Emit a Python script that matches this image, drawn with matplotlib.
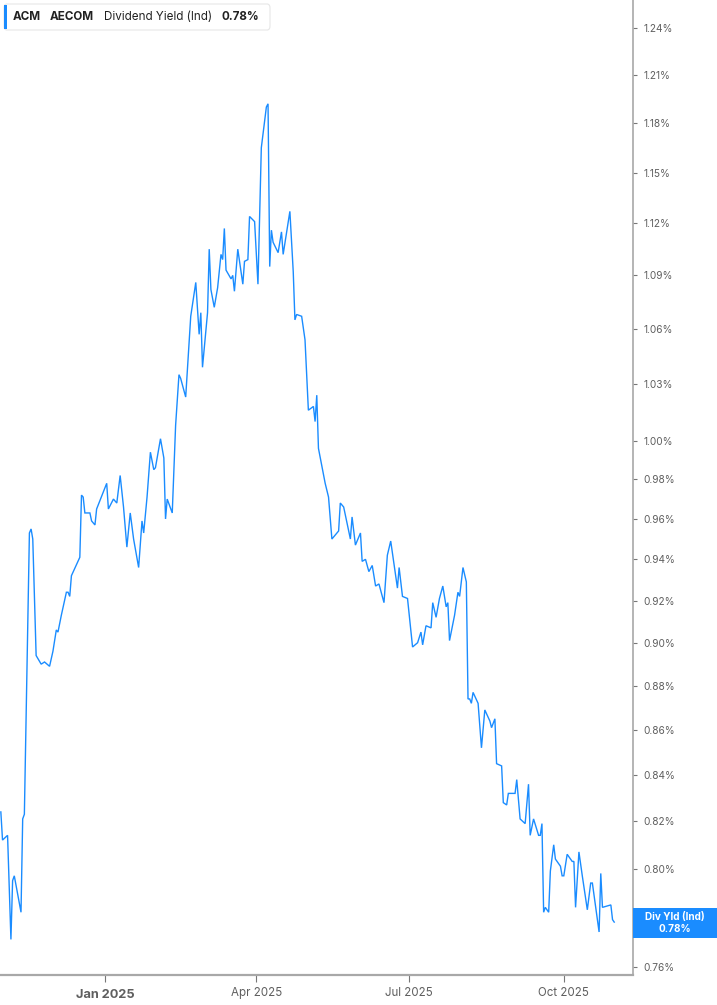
import numpy as np
import pandas as pd
import matplotlib
matplotlib.use("Agg")
import matplotlib.pyplot as plt
from matplotlib.patches import FancyBboxPatch, Rectangle
from matplotlib.ticker import FixedLocator, FuncFormatter, NullLocator

plt.rcParams['font.family'] = ['Inter', 'DejaVu Sans']

# -----------------------------
# Data
# -----------------------------
dates = [
    "2024-10-31", "2024-11-01", "2024-11-04", "2024-11-06", "2024-11-07", "2024-11-08",
    "2024-11-12", "2024-11-13", "2024-11-14", "2024-11-17", "2024-11-18", "2024-11-19",
    "2024-11-21", "2024-11-24", "2024-11-26", "2024-11-29", "2024-12-01", "2024-12-03",
    "2024-12-04", "2024-12-06", "2024-12-09", "2024-12-10", "2024-12-11", "2024-12-12",
    "2024-12-17", "2024-12-18", "2024-12-19", "2024-12-20", "2024-12-23", "2024-12-24",
    "2024-12-26", "2024-12-27", "2025-01-02", "2025-01-03", "2025-01-06", "2025-01-08",
    "2025-01-10", "2025-01-12", "2025-01-14", "2025-01-16", "2025-01-18", "2025-01-21",
    "2025-01-23", "2025-01-24", "2025-01-26", "2025-01-28", "2025-01-30", "2025-01-31",
    "2025-02-03", "2025-02-05", "2025-02-06", "2025-02-07", "2025-02-10", "2025-02-12",
    "2025-02-14", "2025-02-15", "2025-02-18", "2025-02-21", "2025-02-24", "2025-02-26",
    "2025-02-27", "2025-02-28", "2025-03-03", "2025-03-04", "2025-03-05", "2025-03-07",
    "2025-03-09", "2025-03-11", "2025-03-12", "2025-03-13", "2025-03-14", "2025-03-17",
    "2025-03-18", "2025-03-19", "2025-03-21", "2025-03-24", "2025-03-25", "2025-03-27",
    "2025-03-28", "2025-03-31", "2025-04-02", "2025-04-04", "2025-04-07", "2025-04-08",
    "2025-04-09", "2025-04-10", "2025-04-11", "2025-04-14", "2025-04-16", "2025-04-17",
    "2025-04-21", "2025-04-23", "2025-04-24", "2025-04-25", "2025-04-28", "2025-04-30",
    "2025-05-02", "2025-05-05", "2025-05-06", "2025-05-07", "2025-05-08", "2025-05-12",
    "2025-05-14", "2025-05-16", "2025-05-20", "2025-05-21", "2025-05-23", "2025-05-27",
    "2025-05-28", "2025-05-30", "2025-06-02", "2025-06-03", "2025-06-05", "2025-06-07",
    "2025-06-09", "2025-06-11", "2025-06-13", "2025-06-16", "2025-06-18", "2025-06-20",
    "2025-06-24", "2025-06-25", "2025-06-27", "2025-06-30", "2025-07-03", "2025-07-06",
    "2025-07-08", "2025-07-09", "2025-07-11", "2025-07-14", "2025-07-15", "2025-07-17",
    "2025-07-19", "2025-07-21", "2025-07-23", "2025-07-24", "2025-07-25", "2025-07-28",
    "2025-07-30", "2025-07-31", "2025-08-02", "2025-08-04", "2025-08-05", "2025-08-06",
    "2025-08-07", "2025-08-08", "2025-08-11", "2025-08-13", "2025-08-15", "2025-08-18",
    "2025-08-19", "2025-08-21", "2025-08-22", "2025-08-25", "2025-08-26", "2025-08-28",
    "2025-08-29", "2025-09-02", "2025-09-03", "2025-09-05", "2025-09-08", "2025-09-10",
    "2025-09-11", "2025-09-13", "2025-09-16", "2025-09-17", "2025-09-18", "2025-09-19",
    "2025-09-20", "2025-09-22", "2025-09-23", "2025-09-25", "2025-09-26", "2025-09-29",
    "2025-09-30", "2025-10-01", "2025-10-03", "2025-10-06", "2025-10-07", "2025-10-08",
    "2025-10-10", "2025-10-12", "2025-10-15", "2025-10-17", "2025-10-18", "2025-10-20",
    "2025-10-22", "2025-10-23", "2025-10-24", "2025-10-29", "2025-10-30", "2025-10-31",
]

div_yield = [
    0.824, 0.812, 0.814, 0.771, 0.795, 0.797,
    0.782, 0.821, 0.823, 0.953, 0.955, 0.950,
    0.894, 0.890, 0.891, 0.889, 0.896, 0.906,
    0.905, 0.913, 0.924, 0.924, 0.922, 0.932,
    0.941, 0.972, 0.971, 0.963, 0.963, 0.959,
    0.957, 0.965, 0.978, 0.965, 0.970, 0.968,
    0.982, 0.966, 0.946, 0.963, 0.950, 0.936,
    0.959, 0.953, 0.971, 0.994, 0.985, 0.986,
    1.001, 0.991, 0.960, 0.970, 0.963, 1.008,
    1.035, 1.033, 1.023, 1.067, 1.086, 1.057,
    1.069, 1.039, 1.069, 1.105, 1.082, 1.072,
    1.083, 1.102, 1.099, 1.117, 1.093, 1.088,
    1.090, 1.081, 1.105, 1.085, 1.098, 1.099,
    1.124, 1.121, 1.085, 1.165, 1.190, 1.192,
    1.095, 1.116, 1.109, 1.103, 1.115, 1.102,
    1.127, 1.092, 1.065, 1.068, 1.067, 1.054,
    1.016, 1.018, 1.010, 1.024, 0.996, 0.978,
    0.971, 0.950, 0.954, 0.968, 0.966, 0.950,
    0.961, 0.947, 0.953, 0.939, 0.940, 0.934,
    0.937, 0.927, 0.928, 0.919, 0.942, 0.949,
    0.926, 0.936, 0.922, 0.921, 0.898, 0.900,
    0.905, 0.899, 0.908, 0.907, 0.919, 0.912,
    0.921, 0.927, 0.917, 0.919, 0.901, 0.913,
    0.924, 0.922, 0.936, 0.929, 0.874, 0.874,
    0.872, 0.877, 0.872, 0.852, 0.869, 0.864,
    0.861, 0.865, 0.845, 0.844, 0.828, 0.827,
    0.832, 0.832, 0.838, 0.821, 0.819, 0.836,
    0.814, 0.821, 0.814, 0.814, 0.819, 0.782,
    0.784, 0.782, 0.799, 0.810, 0.804, 0.801,
    0.797, 0.797, 0.806, 0.803, 0.803, 0.784,
    0.807, 0.797, 0.783, 0.794, 0.794, 0.784,
    0.774, 0.798, 0.784, 0.785, 0.779, 0.778,
]

y_ticks = [0.76, 0.78, 0.80, 0.82, 0.84, 0.86, 0.88, 0.90, 0.92, 0.94, 0.96, 0.98,
           1.00, 1.03, 1.06, 1.09, 1.12, 1.15, 1.18, 1.21, 1.24]
x_ticks = ["2025-01-01", "2025-04-01", "2025-07-01", "2025-10-01"]
x_labels = ["Jan 2025", "Apr 2025", "Jul 2025", "Oct 2025"]

ticker_sym = "ACM"
company = "AECOM"
metric = "Dividend Yield (Ind)"
last_label = "Div Yld (Ind)"

blue = "#1a8cff"
grey_txt = "#5f5f5f"
spine_col = "#a8a8a8"

x = pd.to_datetime(dates)
y = np.array(div_yield)
last_val = y[-1]

# -----------------------------
# Figure
# -----------------------------
W, H = 717, 1005
fig = plt.figure(figsize=(W / 100, H / 100), dpi=100)
ax = fig.add_axes([0, 30.3 / H, 632.7 / W, 974.7 / H])

ax.plot(x, y, color=blue, lw=1.0, solid_joinstyle='miter')

ax.set_yscale('log')
ax.set_ylim(0.75695, 1.2583)
ax.set_xlim(pd.Timestamp("2024-10-30 12:00"), pd.Timestamp("2025-11-11"))


def pct_fmt(v, p):
    # the tick hidden behind the last-value tag gets no label
    if abs(v - round(last_val, 2)) < 1e-9:
        return ""
    return f"{v:.2f}%"


ax.yaxis.tick_right()
ax.yaxis.set_major_locator(FixedLocator(y_ticks))
ax.yaxis.set_minor_locator(NullLocator())
ax.yaxis.set_major_formatter(FuncFormatter(pct_fmt))
ax.tick_params(axis='y', which='major', length=3, width=0.8, color='#777777',
               labelsize=7.3, labelcolor=grey_txt, pad=5)

ax.set_xticks(pd.to_datetime(x_ticks))
ax.set_xticklabels(x_labels)
ax.tick_params(axis='x', length=5, width=0.8, color='#777777', labelsize=8.3,
               labelcolor=grey_txt, pad=4)
ax.xaxis.set_minor_locator(NullLocator())
for i, lab in enumerate(ax.get_xticklabels()):
    if i == 0:
        lab.set_fontweight('bold')
        lab.set_fontsize(9.2)
        lab.set_y(-0.002)

for s in ['top', 'left']:
    ax.spines[s].set_visible(False)
ax.spines['right'].set_color(spine_col)
ax.spines['bottom'].set_color(spine_col)
ax.spines['right'].set_linewidth(1.2)
ax.spines['bottom'].set_linewidth(1.6)

# -----------------------------
# Legend box (top-left)
# -----------------------------
def fx(px):
    return px / W

def fy(py):
    return 1 - py / H

box = FancyBboxPatch((fx(4), fy(30)), fx(266), 26 / H,
                     boxstyle="round,pad=0,rounding_size=0.004",
                     transform=fig.transFigure, facecolor='white',
                     edgecolor='#e6e6e6', lw=0.8, zorder=5)
fig.patches.append(box)
fig.patches.append(Rectangle((fx(4), fy(29)), fx(3), 24 / H, transform=fig.transFigure,
                             facecolor=blue, edgecolor='none', zorder=6))
ty = fy(17)
txt_kw = dict(fontsize=8.4, color='#222222', va='center', zorder=8)
fig.text(fx(13), ty, ticker_sym, fontweight='bold', **txt_kw)
fig.text(fx(50), ty, company, fontweight='bold', **txt_kw)
fig.text(fx(104), ty, metric, **txt_kw)
fig.text(fx(221), ty, f"{last_val:.2f}%", fontweight='bold', **txt_kw)

# -----------------------------
# Last value tag on the axis
# -----------------------------
fig.patches.append(Rectangle((fx(633), fy(938)), fx(84), 30 / H, transform=fig.transFigure,
                             facecolor=blue, edgecolor='none', zorder=6))
fig.text(fx(675), fy(917), last_label, fontsize=7.2, fontweight='bold', color='white',
         ha='center', va='center', zorder=8)
fig.text(fx(675), fy(929), f"{last_val:.2f}%", fontsize=7.2, fontweight='bold', color='white',
         ha='center', va='center', zorder=8)

fig.savefig("out.png", dpi=100)
